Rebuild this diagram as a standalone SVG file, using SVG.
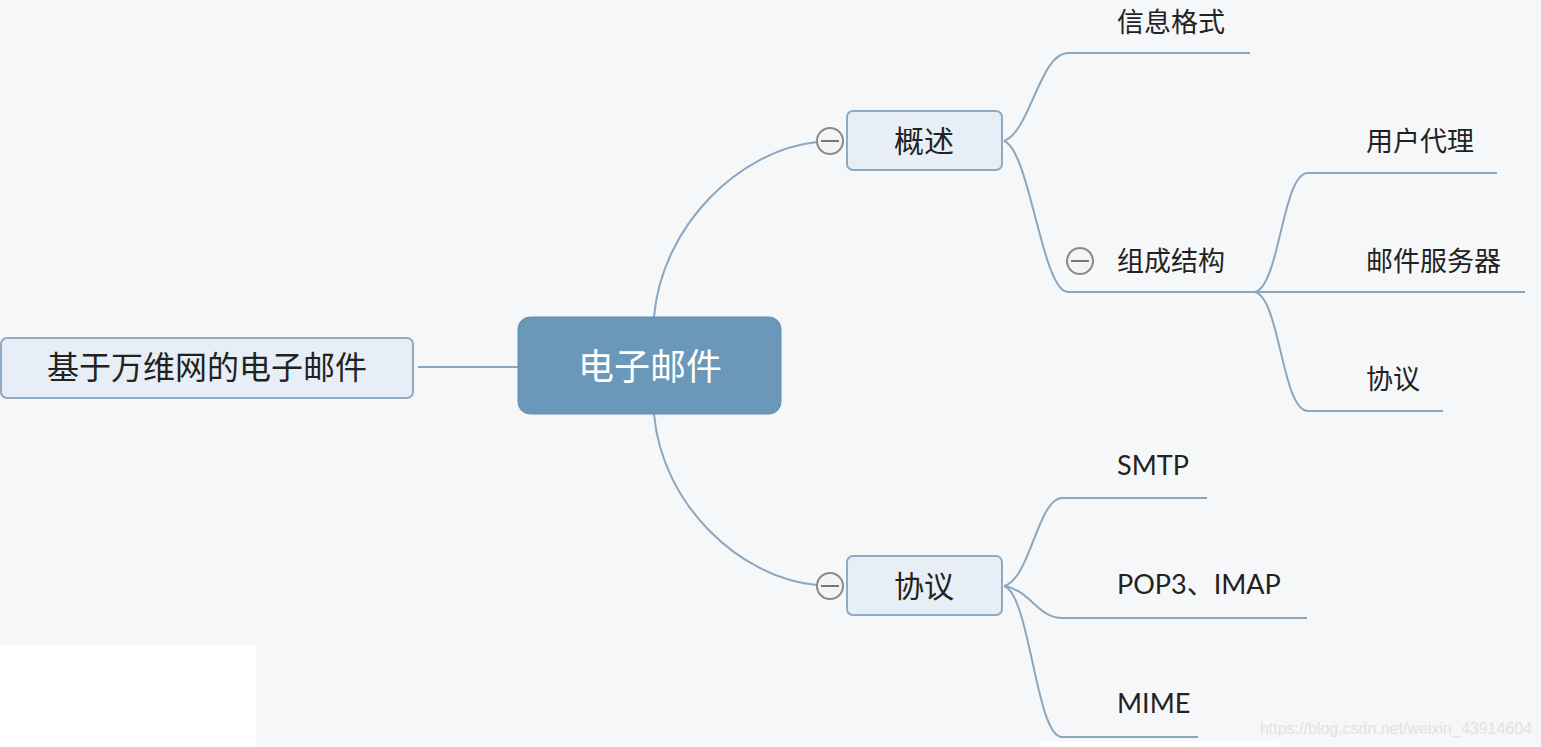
<svg xmlns="http://www.w3.org/2000/svg" width="1541" height="747" viewBox="0 0 1541 747">
<style>
.t{font-family:"Noto Sans CJK SC","Noto Sans",sans-serif;fill:#222;}
.lat{font-family:Lato,"Noto Sans",sans-serif;fill:#222;}
.box{fill:#e8eef5;stroke:#8eaac5;stroke-width:2;}
.c{fill:none;stroke:#8aa7c1;stroke-width:2;}
.tog{fill:#f4f4f4;stroke:#8a8a8a;stroke-width:2;}
.togl{stroke:#777;stroke-width:2;}
</style>
<rect x="0" y="0" width="1541" height="747" fill="#f6f7f8"/>
<rect x="0" y="645" width="256" height="102" fill="#ffffff"/>
<rect x="1040" y="741" width="240" height="6" fill="#ffffff"/>
<text x="1396" y="734" font-family="Liberation Sans,sans-serif" font-size="16" fill="#e2e2e2" text-anchor="middle">https://blog.csdn.net/weixin_43914604</text>
<g id="connectors">
<path class="c" d="M418,367 L518,367"/>
<path class="c" d="M654,317 C662,225 740,150 817,142"/>
<path class="c" d="M654,414 C662,505 740,578 817,585"/>
<path class="c" d="M1004,141 C1030,132 1040,53 1068,53 L1250,53"/>
<path class="c" d="M1004,141 C1030,150 1042,292 1068,292 L1255,292"/>
<path class="c" d="M1255,292 C1280,286 1282,173 1308,173 L1497,173"/>
<path class="c" d="M1255,292 L1525,292"/>
<path class="c" d="M1255,292 C1280,298 1282,411 1308,411 L1443,411"/>
<path class="c" d="M1004,586 C1030,580 1038,498 1062,498 L1207,498"/>
<path class="c" d="M1004,586 C1030,590 1038,618 1062,618 L1307,618"/>
<path class="c" d="M1004,586 C1030,594 1036,737 1062,737 L1198,737"/>
</g>
<g id="root">
<rect x="518" y="317" width="263" height="97" rx="12" fill="#6b98b9" stroke="#6590b1" stroke-width="1"/>
<text x="650" y="380" font-family="Noto Sans CJK SC,sans-serif" font-size="36" fill="#ffffff" text-anchor="middle">电子邮件</text>
</g>
<g id="left">
<rect class="box" x="1" y="338" width="412" height="60" rx="6"/>
<text class="t" x="207" y="379" font-size="32" text-anchor="middle">基于万维网的电子邮件</text>
</g>
<g id="overview">
<circle class="tog" cx="830" cy="141" r="13"/>
<line class="togl" x1="821" y1="141" x2="839" y2="141"/>
<rect class="box" x="847" y="111" width="155" height="59" rx="6"/>
<text class="t" x="924" y="152" font-size="30" text-anchor="middle">概述</text>
</g>
<g id="protocol">
<circle class="tog" cx="830" cy="586" r="13"/>
<line class="togl" x1="821" y1="586" x2="839" y2="586"/>
<rect class="box" x="847" y="556" width="155" height="59" rx="6"/>
<text class="t" x="924" y="597" font-size="30" text-anchor="middle">协议</text>
</g>
<g id="info-format">
<text class="t" x="1117" y="32" font-size="27">信息格式</text>
</g>
<g id="structure">
<circle class="tog" cx="1080" cy="261" r="13"/>
<line class="togl" x1="1071" y1="261" x2="1089" y2="261"/>
<text class="t" x="1117" y="271" font-size="27">组成结构</text>
</g>
<g id="user-agent">
<text class="t" x="1366" y="151" font-size="27">用户代理</text>
</g>
<g id="mail-server">
<text class="t" x="1366" y="271" font-size="27">邮件服务器</text>
</g>
<g id="sub-protocol">
<text class="t" x="1366" y="389" font-size="27">协议</text>
</g>
<g id="smtp">
<text class="lat" x="1117" y="475" font-size="27">SMTP</text>
</g>
<g id="pop3">
<text class="lat" x="1117" y="594" font-size="27">POP3<tspan font-family="Noto Sans CJK SC,sans-serif">、</tspan>IMAP</text>
</g>
<g id="mime">
<text class="lat" x="1117" y="713" font-size="27">MIME</text>
</g>
</svg>
